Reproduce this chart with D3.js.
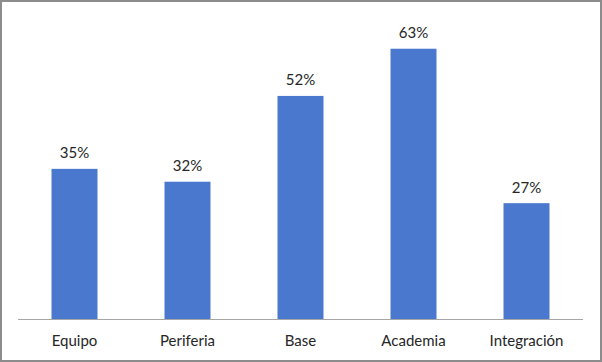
<!DOCTYPE html>
<html><head><meta charset="utf-8">
<script src="https://cdn.jsdelivr.net/npm/d3@7"></script>
<style>body{margin:0;background:#fff}svg{display:block}</style>
</head><body>
<svg id="c" width="602" height="362"></svg>
<script>
const categories = ["Equipo","Periferia","Base","Academia","Integración"];
const values = [0.35,0.32,0.52,0.63,0.27];

const svg = d3.select("#c");
const W = 602, H = 362;
svg.append("rect").attr("x",1).attr("y",1).attr("width",W-2).attr("height",H-2)
  .attr("fill","#fff").attr("stroke","#8c8c8c").attr("stroke-width",2);

const x = d3.scaleBand().domain(categories).range([18,583]).paddingInner(0.593).paddingOuter(0.2965);
const y = d3.scaleLinear().domain([0,0.70]).range([319,18.7]);

svg.selectAll("rect.bar").data(values).join("rect").attr("class","bar")
  .attr("x",(d,i)=>x(categories[i])).attr("width",x.bandwidth())
  .attr("y",d=>y(d)).attr("height",d=>y(0)-y(d)).attr("fill","#4a78cf");

svg.append("line").attr("x1",18).attr("x2",583).attr("y1",y(0)+0.5).attr("y2",y(0)+0.5)
  .attr("stroke","#a6a6a6").attr("stroke-width",1);

const font = "Lato, 'Open Sans', sans-serif";
svg.selectAll("text.val").data(values).join("text").attr("class","val")
  .attr("x",(d,i)=>x(categories[i])+x.bandwidth()/2).attr("y",d=>y(d)-10.5)
  .attr("text-anchor","middle").attr("font-family",font).attr("font-size",15).attr("fill","#262626")
  .text(d=>d3.format(".0%")(d));

svg.selectAll("text.cat").data(categories).join("text").attr("class","cat")
  .attr("x",d=>x(d)+x.bandwidth()/2).attr("y",346)
  .attr("text-anchor","middle").attr("font-family",font).attr("font-size",15).attr("fill","#262626")
  .text(d=>d);
</script>
</body></html>
